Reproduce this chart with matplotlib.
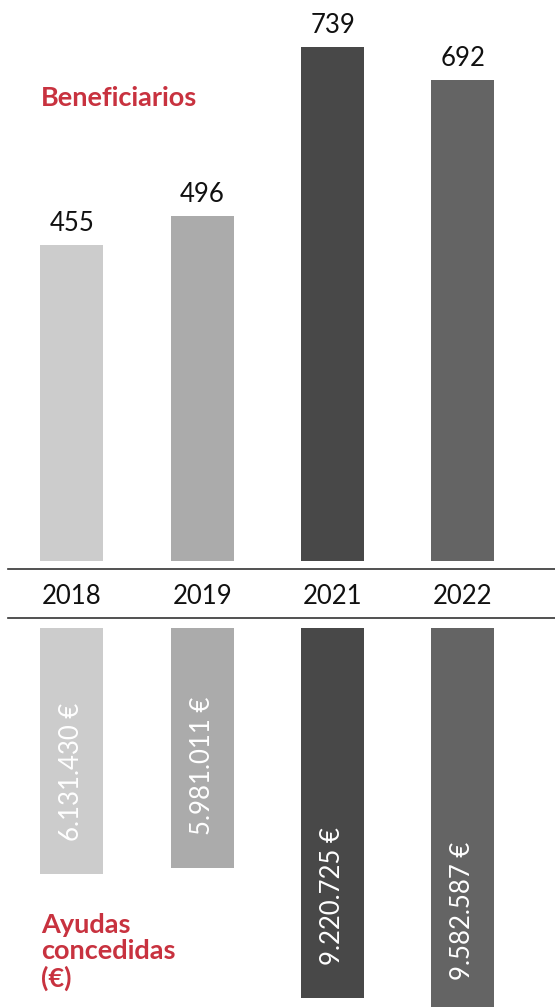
import numpy as np
import matplotlib.pyplot as plt

plt.rcParams["font.family"] = ["Lato", "DejaVu Sans"]

years = ["2018", "2019", "2021", "2022"]
beneficiarios = [455, 496, 739, 692]
ayudas = [6131430, 5981011, 9220725, 9582587]
bar_colors = ["#cccccc", "#ababab", "#484848", "#646464"]

RED = "#c8323f"
W, H = 555, 1007

fig = plt.figure(figsize=(W / 100, H / 100), dpi=100)


def px_axes(left, top, right, bottom):
    # axes placed by pixel box (top-left origin)
    return fig.add_axes([left / W, 1 - bottom / H, (right - left) / W, (bottom - top) / H])


x = np.arange(len(years))
xlim = (-0.491, 3.707)
bar_w = 0.4835

# Beneficiarios (upper panel)
ax_top = px_axes(8, 0, 555, 561)
ax_top.bar(x, beneficiarios, width=bar_w, color=bar_colors)
for xi, v in zip(x, beneficiarios):
    ax_top.annotate(str(v), (xi, v), xytext=(0, 14), textcoords="offset pixels",
                    ha="center", va="baseline", fontsize=18.5, color="#111111")
ax_top.set_xlim(xlim)
ax_top.set_ylim(0, 807)
ax_top.axis("off")

# year strip between the two panels
ax_mid = px_axes(8, 569, 555, 618)
ax_mid.set_xlim(xlim)
ax_mid.set_ylim(0, 1)
for xi, year in zip(x, years):
    ax_mid.text(xi, 0.5, year, ha="center", va="center_baseline", fontsize=18.5, color="#111111")
ax_mid.set_xticks([])
ax_mid.set_yticks([])
for side in ["left", "right"]:
    ax_mid.spines[side].set_visible(False)
for side in ["top", "bottom"]:
    ax_mid.spines[side].set_color("#333333")
    ax_mid.spines[side].set_linewidth(1.2)
ax_mid.patch.set_alpha(0)

# Ayudas concedidas (lower panel, hanging bars)
ax_bot = px_axes(8, 628, 555, 1007)
ax_bot.bar(x, ayudas, width=bar_w, color=bar_colors)
for xi, v in zip(x, ayudas):
    label = f"{v:,}".replace(",", ".") + " €"
    ax_bot.annotate(label, (xi, v), xytext=(0, 33), textcoords="offset pixels",
                    rotation=90, ha="center", va="bottom", fontsize=18.5, color="white",
                    annotation_clip=False)
ax_bot.set_xlim(xlim)
ax_bot.set_ylim(9.444e6, 0)
ax_bot.axis("off")

fig.text(41 / W, 1 - 106 / H, "Beneficiarios", fontsize=19.5, fontweight="bold",
         color=RED, ha="left", va="baseline")
fig.text(41 / W, 1 - 913 / H, "Ayudas\nconcedidas\n(€)", fontsize=19.5, fontweight="bold",
         color=RED, ha="left", va="top", linespacing=1.12)

fig.savefig("out.png", dpi=100)
